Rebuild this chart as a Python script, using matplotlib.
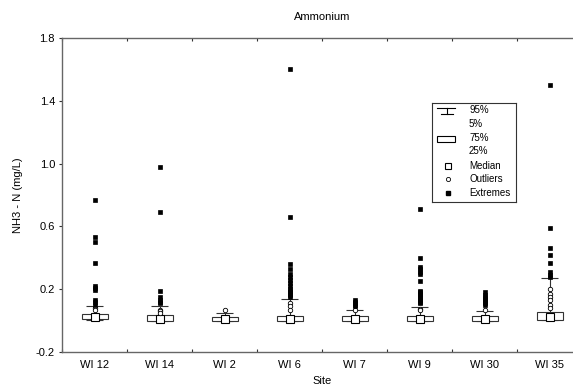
import matplotlib
matplotlib.use('Agg')
import matplotlib.pyplot as plt

plt.rcParams['font.family'] = ['Liberation Sans', 'DejaVu Sans']

sites = ['WI 12', 'WI 14', 'WI 2', 'WI 6', 'WI 7', 'WI 9', 'WI 30', 'WI 35']
p5 = [0.005, 0.0, 0.0, 0.0, 0.0, 0.0, 0.0, 0.005]
q25 = [0.01, 0.0, 0.0, 0.0, 0.0, 0.0, 0.0, 0.005]
median = [0.02, 0.01, 0.01, 0.01, 0.01, 0.01, 0.01, 0.025]
q75 = [0.04, 0.035, 0.025, 0.03, 0.03, 0.03, 0.03, 0.055]
p95 = [0.09, 0.095, 0.05, 0.135, 0.065, 0.085, 0.06, 0.27]
outliers = [
    [0.08, 0.07],
    [0.07, 0.06, 0.05],
    [0.065],
    [0.11, 0.09, 0.07],
    [0.07],
    [0.075, 0.065],
    [0.065],
    [0.20, 0.17, 0.15, 0.13, 0.10, 0.08],
]
extremes = [
    [0.77, 0.53, 0.50, 0.37, 0.22, 0.21, 0.195, 0.13, 0.12, 0.10],
    [0.98, 0.69, 0.19, 0.15, 0.13, 0.12, 0.11],
    [],
    [1.6, 0.66, 0.36, 0.33, 0.30, 0.28, 0.26, 0.24, 0.22, 0.20, 0.19, 0.18, 0.17, 0.16, 0.15],
    [0.13, 0.12, 0.11, 0.10, 0.09],
    [0.71, 0.40, 0.34, 0.33, 0.31, 0.30, 0.25, 0.19, 0.18, 0.17, 0.16, 0.15, 0.14, 0.13, 0.12, 0.11],
    [0.18, 0.16, 0.15, 0.14, 0.13, 0.12, 0.11, 0.10],
    [1.5, 0.59, 0.46, 0.42, 0.37, 0.31, 0.29, 0.28],
]

W, H = 573, 388
fig = plt.figure(figsize=(W / 100, H / 100), dpi=100)
ax = fig.add_axes([62 / W, (H - 352) / H, 520 / W, 314 / H])

x = list(range(len(sites)))
edge = '#333333'
fs = 8

# whiskers + caps
ax.vlines(x, p5, p95, color=edge, lw=0.8, zorder=2)
ax.hlines(p95, [i - 0.13 for i in x], [i + 0.13 for i in x], color=edge, lw=0.8, zorder=2)
ax.hlines(p5, [i - 0.13 for i in x], [i + 0.13 for i in x], color=edge, lw=0.8, zorder=2)
# boxes
ax.bar(x, [b - a for a, b in zip(q25, q75)], bottom=q25, width=0.4,
       facecolor='white', edgecolor=edge, lw=0.8, zorder=3)
ax.plot(x, median, ls='none', marker='s', ms=5.5, mfc='white', mec='black', mew=0.8, zorder=4)

for i in x:
    ax.plot([i] * len(outliers[i]), outliers[i], ls='none', marker='o', ms=3.2,
            mfc='white', mec='black', mew=0.6, zorder=5)
    ax.plot([i] * len(extremes[i]), extremes[i], ls='none', marker='s', ms=3,
            mfc='black', mec='black', mew=0.5, zorder=5)

ax.set_xlim(-0.5, len(sites) - 0.5)
ax.set_ylim(-0.2, 1.8)
ax.set_yticks([-0.2, 0.2, 0.6, 1.0, 1.4, 1.8])
ax.set_yticklabels(['-0.2', '0.2', '0.6', '1.0', '1.4', '1.8'], fontsize=fs)
ax.set_xticks(x)
ax.set_xticklabels(sites, fontsize=fs)
ax.set_xticks([i + 0.5 for i in range(-1, len(sites))], minor=True)
ax.tick_params(axis='x', which='major', length=0, pad=6)
ax.tick_params(axis='x', which='minor', direction='in', length=2, top=True, width=0.8, color=edge)
ax.tick_params(axis='y', direction='out', length=2, width=0.8, color=edge, pad=3)
for s in ax.spines.values():
    s.set_color('#666666')
    s.set_linewidth(1.0)

ax.set_title('Ammonium', fontsize=fs, pad=13)
ax.set_xlabel('Site', fontsize=fs, labelpad=4)
ax.set_ylabel('NH3 - N (mg/L)', fontsize=fs, labelpad=9)

# legend drawn in its own small axes
lg = fig.add_axes([432 / W, (H - 202) / H, 84 / W, 99 / H])
lg.set_xlim(432, 516)
lg.set_ylim(202, 103)
lg.set_xticks([])
lg.set_yticks([])
for s in lg.spines.values():
    s.set_color('#333333')
    s.set_linewidth(0.8)
lfs = 7
lg.plot([437, 455], [108, 108], color='black', lw=0.8)
lg.plot([447, 447], [108, 114], color='black', lw=0.8)
lg.plot([441, 453], [114, 114], color='black', lw=0.8)
lg.add_patch(plt.Rectangle((437, 136), 18, 6, facecolor='white', edgecolor='black', lw=0.8))
lg.plot([448], [166], marker='s', ms=5, mfc='white', mec='black', mew=0.8)
lg.plot([448], [179], marker='o', ms=3, mfc='white', mec='black', mew=0.6)
lg.plot([448], [193], marker='s', ms=3, mfc='black', mec='black')
labels = ['95%', '5%', '75%', '25%', 'Median', 'Outliers', 'Extremes']
ys = [110, 124, 138, 151, 166, 179, 193]
for t, yy in zip(labels, ys):
    lg.text(469, yy, t, fontsize=lfs, va='center', ha='left')

fig.savefig('out.png', dpi=100)
